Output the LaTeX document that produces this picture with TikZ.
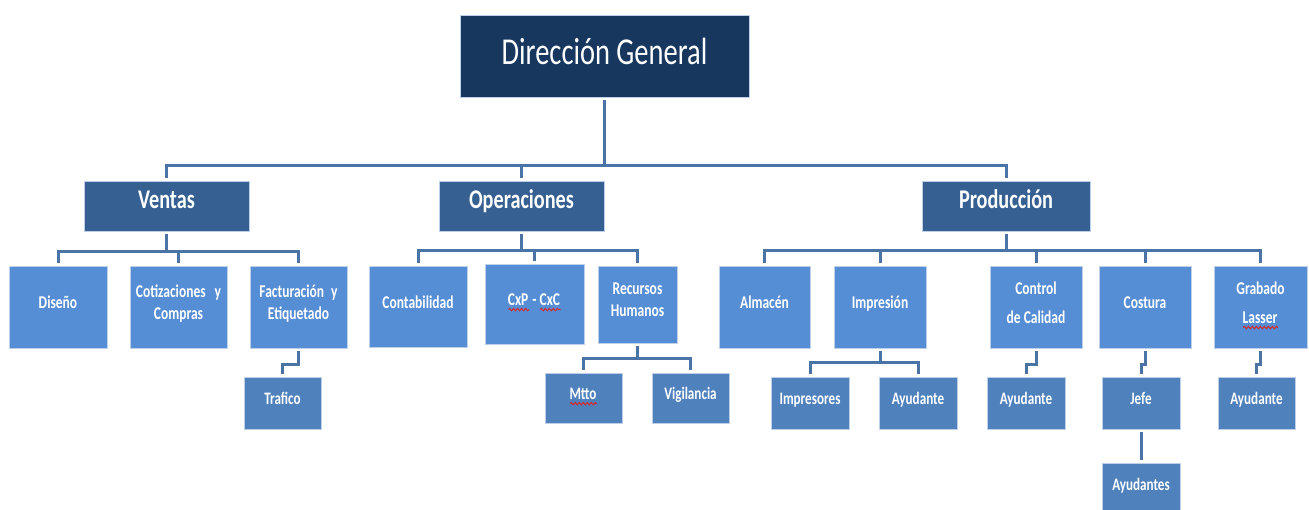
\documentclass[tikz,border=0pt]{standalone}
\usepackage{fontspec}
\setmainfont{Carlito}[FakeStretch=0.75]
\usetikzlibrary{calc,decorations.pathmorphing}
\definecolor{dgcol}{RGB}{23,55,94}
\definecolor{areacol}{RGB}{54,96,146}
\definecolor{deptcol}{RGB}{85,142,213}
\definecolor{subcol}{RGB}{79,129,189}
\definecolor{linkcol}{RGB}{74,116,166}
\definecolor{edgecol}{RGB}{190,208,232}
\definecolor{spellcol}{RGB}{215,40,40}
\newsavebox\spellbox
\newcommand\spellmark[1]{\sbox\spellbox{#1}\rlap{\usebox\spellbox}%
  \tikz[baseline=0pt]\draw[spellcol, line width=1pt, decorate, decoration={snake, amplitude=1.2pt, segment length=4pt}] (0pt,-4.5pt) -- (\the\wd\spellbox,-4.5pt);}
\tikzset{
  box/.style={draw=edgecol, line width=0.8pt, text=white, inner sep=0pt, outer sep=3pt, align=center},
  dgbox/.style={box, fill=dgcol, minimum width=289pt, minimum height=82pt, text height=28pt, text depth=11.5pt, font=\fontsize{38}{44}\selectfont},
  areabox/.style={box, fill=areacol, minimum width=165pt, minimum height=50pt, text height=21pt, text depth=15.6pt, font=\bfseries\fontsize{27}{32}\selectfont},
  deptbox/.style={box, fill=deptcol, minimum width=98pt, minimum height=82pt, text depth=9.6pt, font=\bfseries\fontsize{18}{22}\selectfont},
  subbox/.style={box, fill=subcol, minimum width=78pt, minimum height=52pt, text depth=9pt, font=\bfseries\fontsize{17.5}{21}\selectfont},
  link/.style={draw=linkcol, line width=3pt},
}
\begin{document}
\begin{tikzpicture}[x=1pt, y=-1pt]
    \useasboundingbox (0,0) rectangle (1309,509);
    % 1. Dirección y áreas
    \node[dgbox] (dg) at (604.5,56) {Dirección General};
    \node[areabox] (ventas) at (166.5,206) {Ventas};
    \node[areabox] (operaciones) at (521.5,206) {Operaciones};
    \node[areabox, minimum width=168pt] (produccion) at (1006,206) {Producción};
    % 2. Departamentos
    \node[deptbox] (disenio) at (58,307) {Diseño};
    \node[deptbox, minimum width=97pt] (cotizaciones) at (178.5,307) {Cotizaciones\hspace{6pt} y\\Compras};
    \node[deptbox, minimum width=97pt] (facturacion) at (298.5,307) {Facturación\hspace{4pt} y\\Etiquetado};
    \node[deptbox, minimum height=81pt] (contabilidad) at (418,306.5) {Contabilidad};
    \node[deptbox, minimum width=99pt, minimum height=80pt] (cxp) at (534.5,304) {\spellmark{CxP} - \spellmark{CxC}};
    \node[deptbox, minimum width=79pt, minimum height=77pt] (rrhh) at (637.5,304.5) {Recursos\\Humanos};
    \node[deptbox, minimum width=91pt] (almacen) at (764.5,307) {Almacén};
    \node[deptbox, minimum width=92pt] (impresion) at (880,307) {Impresión};
    \node[deptbox, minimum width=92pt] (calidad) at (1036,307) {Control\\[7pt]de Calidad};
    \node[deptbox, minimum width=92pt] (costura) at (1145,307) {Costura};
    \node[deptbox, minimum width=93pt] (grabado) at (1260.5,307) {Grabado\\[7pt]\spellmark{Lasser}};
    % 3. Puestos
    \node[subbox, minimum width=77pt] (trafico) at (282.5,403) {Trafico};
    \node[subbox, minimum width=77pt, minimum height=50pt] (mtto) at (583.5,398) {\spellmark{Mtto}};
    \node[subbox, minimum width=77pt, minimum height=50pt] (vigilancia) at (690.5,398) {Vigilancia};
    \node[subbox] (impresores) at (810,403) {Impresores};
    \node[subbox] (ayudimp) at (918,403) {Ayudante};
    \node[subbox] (ayudcal) at (1026,403) {Ayudante};
    \node[subbox] (jefe) at (1141,403) {Jefe};
    \node[subbox] (ayudantes) at (1141,489) {Ayudantes};
    \node[subbox, minimum width=77pt] (ayudgrab) at (1256.5,403) {Ayudante};
    % 4. Barras de conexión
    \coordinate (busT) at (604.5,165);
    \coordinate (busV) at (166.5,251);
    \coordinate (busO) at (521.5,250);
    \coordinate (busP) at (1006,250);
    \coordinate (busR) at (637.5,358);
    \coordinate (busI) at (880,362);
    \draw[link] (dg.south) -- (busT);
    \draw[link] (ventas.north) |- (busT) -| (produccion.north);
    \draw[link] (operaciones.north) -- (operaciones.north |- busT);
    % Ventas
    \draw[link] (ventas.south) -- (busV);
    \draw[link] (disenio.north) |- (busV) -| (facturacion.north);
    \draw[link] (cotizaciones.north) -- (cotizaciones.north |- busV);
    % Operaciones
    \draw[link] (operaciones.south) -- (busO);
    \draw[link] (contabilidad.north) |- (busO) -| (rrhh.north);
    \draw[link] (cxp.north) -- (cxp.north |- busO);
    % Producción
    \draw[link] (produccion.south) -- (busP);
    \draw[link] (almacen.north) |- (busP) -| (grabado.north);
    \foreach \d in {impresion,calidad,costura}
        \draw[link] (\d.north) -- (\d.north |- busP);
    % 5. Puestos
    \draw[link] (rrhh.south) -- (busR);
    \draw[link] (mtto.north) |- (busR) -| (vigilancia.north);
    \draw[link] (impresion.south) -- (busI);
    \draw[link] (impresores.north) |- (busI) -| (ayudimp.north);
    \draw[link] (facturacion.south) -- ++(0,13) -| (trafico.north);
    \draw[link] (calidad.south) -- ++(0,13) -| (ayudcal.north);
    \draw[link] (costura.south) -- ++(0,13) -| (jefe.north);
    \draw[link] (grabado.south) -- ++(0,13) -| (ayudgrab.north);
    \draw[link] (jefe.south) -- (ayudantes.north);
\end{tikzpicture}
\end{document}
